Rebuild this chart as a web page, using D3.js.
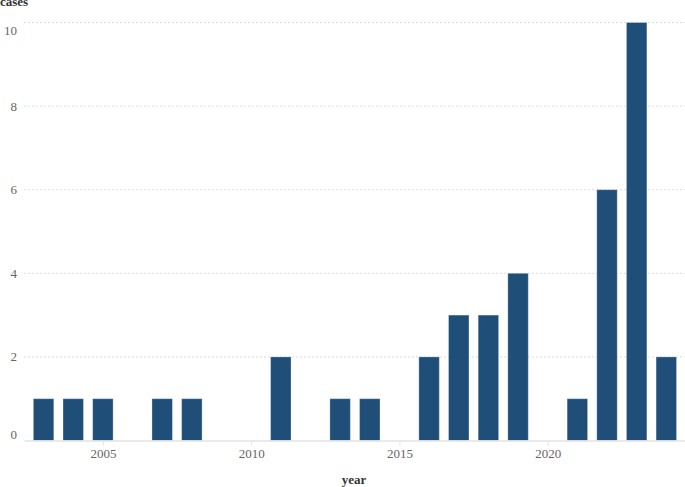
<!DOCTYPE html>
<html>
<head>
<meta charset="utf-8">
<script src="https://cdn.jsdelivr.net/npm/d3@7"></script>
<style>
  body { margin: 0; background: #fff; }
  svg text { font-family: "Liberation Serif", "DejaVu Serif", serif; }
</style>
</head>
<body>
<svg id="chart"></svg>
<script>
// data
var years = [2003, 2004, 2005, 2006, 2007, 2008, 2009, 2010, 2011, 2012, 2013,
             2014, 2015, 2016, 2017, 2018, 2019, 2020, 2021, 2022, 2023, 2024];
var cases = [1, 1, 1, 0, 1, 1, 0, 0, 2, 0, 1,
             1, 0, 2, 3, 3, 4, 0, 1, 6, 10, 2];
var xTicks = [2005, 2010, 2015, 2020];
var yTicks = [0, 2, 4, 6, 8, 10];

var data = years.map(function (y, i) {
    return { year: y, cases: cases[i] };
});

var W = 685, H = 487;
var plotLeft = 24, plotRight = 685, plotTop = 22.5, plotBottom = 440.5;

var svg = d3.select("#chart").attr("width", W).attr("height", H);

var xScale = d3.scaleLinear().domain([2002.34, 2024.63]).range([plotLeft, plotRight]);
var yScale = d3.scaleLinear().domain([0, 10]).range([plotBottom, plotTop]);
var half = 0.345;

// gridlines
svg.append("g")
    .selectAll("line")
    .data(yTicks.filter(function (d) { return d > 0; }))
    .enter()
    .append("line")
    .attr("x1", plotLeft)
    .attr("x2", plotRight)
    .attr("y1", function (d) { return yScale(d); })
    .attr("y2", function (d) { return yScale(d); })
    .attr("stroke", "#dcdcdc")
    .attr("stroke-dasharray", "2,2");

// y tick labels, top and bottom flushed inside like the original
svg.append("g")
    .selectAll("text")
    .data(yTicks)
    .enter()
    .append("text")
    .attr("x", 17)
    .attr("y", function (d) { return yScale(d); })
    .attr("dy", function (d) {
        if (d === 10) return "0.95em";
        if (d === 0) return "-0.1em";
        return "0.35em";
    })
    .attr("text-anchor", "end")
    .attr("fill", "#666")
    .style("font-size", "13px")
    .text(function (d) { return d; });

// bars
svg.append("g")
    .selectAll("rect")
    .data(data.filter(function (d) { return d.cases > 0; }))
    .enter()
    .append("rect")
    .attr("x", function (d) { return xScale(d.year - half); })
    .attr("width", function (d) { return xScale(d.year + half) - xScale(d.year - half); })
    .attr("y", function (d) { return yScale(d.cases); })
    .attr("height", function (d) { return yScale(0) - yScale(d.cases); })
    .attr("fill", "#1f4e79")
    .attr("stroke", "rgba(255,255,255,0.3)")
    .attr("stroke-width", 1);

// x axis
var xAxis = d3.axisBottom(xScale)
    .tickValues(xTicks)
    .tickFormat(d3.format("d"))
    .tickSize(5)
    .tickSizeOuter(0);

var gx = svg.append("g")
    .attr("transform", "translate(0," + plotBottom + ")")
    .call(xAxis);
gx.select(".domain").attr("stroke", "#e3e3e3").attr("stroke-width", 1.5);
gx.selectAll(".tick line").attr("stroke", "#e3e3e3");
gx.selectAll(".tick text")
    .attr("fill", "#666")
    .attr("y", 8)
    .style("font-size", "13px")
    .style("font-family", "Liberation Serif, serif");

// axis titles
svg.append("text")
    .attr("x", 0)
    .attr("y", 6)
    .attr("fill", "#333")
    .style("font-size", "13px")
    .style("font-weight", "bold")
    .text("cases");

svg.append("text")
    .attr("x", 354)
    .attr("y", 484)
    .attr("text-anchor", "middle")
    .attr("fill", "#333")
    .style("font-size", "13px")
    .style("font-weight", "bold")
    .text("year");
</script>
</body>
</html>
